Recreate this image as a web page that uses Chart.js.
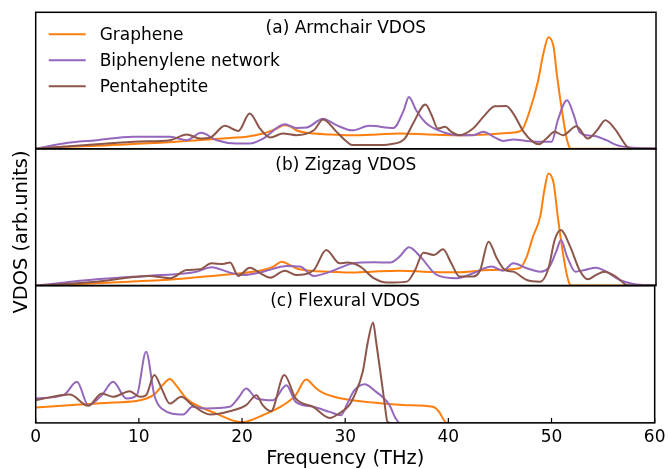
<!DOCTYPE html>
<html>
<head>
<meta charset="utf-8">
<script src="https://cdn.jsdelivr.net/npm/chart.js@4.4.1/dist/chart.umd.min.js"></script>
<style>
  html, body { margin: 0; padding: 0; background: #fff; }
  #wrap { position: relative; width: 670px; height: 469px; overflow: hidden; }
  #wrap canvas { position: absolute; left: 0; top: 0; }
</style>
</head>
<body>
<div id="wrap">
  <canvas id="armchair" width="670" height="469"></canvas>
  <canvas id="zigzag" width="670" height="469"></canvas>
  <canvas id="flexural" width="670" height="469"></canvas>
</div>
<script>
// Vibrational density of states, frequency in THz, intensity in arbitrary units (0-100 per panel)
const seriesNames = ['Graphene', 'Biphenylene network', 'Pentaheptite'];
const seriesColors = ['#ff7f0e', '#9467bd', '#8c564b'];
const panelTitles = ['(a) Armchair VDOS', '(b) Zigzag VDOS', '(c) Flexural VDOS'];
const xTicks = [0, 10, 20, 30, 40, 50, 60];
const xLabel = 'Frequency (THz)';
const yLabel = 'VDOS (arb.units)';

// (a) Armchair
const armchairGraphene = [[0,0],[2.7,1.5],[5.9,2.2],[9.1,3.4],[12.4,4.6],[15.6,6.3],[18.8,8.0],[20.4,8.8],[22.0,11.2],[23.3,14.8],[24.0,17.3],[24.6,16.5],[25.2,13.6],[26.2,11.7],[28.5,10.5],[30.4,10.0],[33.0,10.5],[35.2,11.2],[38.0,10.5],[40.7,10.0],[44.0,10.7],[46.2,11.9],[47.0,13.6],[47.8,28.2],[48.6,50.1],[49.1,69.6],[49.6,81.8],[50.1,74.4],[50.4,55.0],[50.9,28.2],[51.4,6.3],[51.8,0],[60,0]];
const armchairBiphenylene = [[0,0],[2.7,3.9],[5.9,6.3],[9.4,8.8],[13.0,8.8],[14.6,6.3],[16.0,11.7],[17.5,6.3],[19.4,3.9],[20.7,3.9],[22.0,7.5],[24.1,18.0],[25.2,15.3],[26.2,15.6],[27.8,22.1],[29.1,17.3],[30.6,13.5],[32.3,16.8],[34.6,15.3],[35.6,28.2],[36.1,38.0],[36.8,28.2],[37.8,18.5],[39.1,13.1],[40.7,10.0],[42.3,10.0],[43.3,12.4],[44.3,8.8],[45.2,5.8],[46.2,6.8],[47.5,5.8],[48.8,5.1],[49.9,5.1],[50.5,20.9],[51.4,35.5],[52.0,25.8],[52.6,12.4],[53.3,10.0],[54.2,9.2],[55.2,6.3],[56.2,2.7],[57.5,1.0],[60,0.2]];
const armchairPentaheptite = [[0,0],[5.9,3.4],[10.1,5.4],[13.0,6.3],[14.6,10.5],[15.9,7.5],[16.9,8.3],[18.3,16.8],[19.6,13.1],[20.7,25.8],[21.7,14.8],[22.7,8.3],[23.9,11.2],[25.2,10.0],[26.9,13.6],[27.8,21.4],[29.1,12.4],[30.1,5.1],[30.6,2.7],[32.7,2.7],[34.3,3.4],[35.7,7.5],[36.5,18.5],[37.7,32.4],[38.3,24.6],[38.9,14.8],[39.6,16.1],[40.2,12.4],[41.0,10.0],[42.3,14.8],[43.3,23.4],[44.4,31.1],[45.5,31.4],[46.2,25.8],[47.2,12.4],[48.1,5.1],[48.7,3.4],[49.4,7.5],[50.2,12.4],[51.0,10.0],[52.3,16.5],[53.4,7.5],[54.3,13.6],[55.1,20.9],[56.0,14.8],[57.2,1.5],[57.6,0],[60,0]];

// (b) Zigzag
const zigzagGraphene = [[0,0],[2.7,0.7],[5.9,1.7],[9.1,2.9],[12.4,4.1],[15.6,6.1],[18.8,8.3],[22.0,11.4],[23.0,13.9],[23.8,17.5],[24.6,15.0],[25.2,12.7],[26.5,10.9],[28.5,10.2],[30.4,9.5],[32.5,10.2],[35.2,10.9],[38.0,10.0],[40.7,9.7],[43.9,11.4],[46.8,12.7],[47.5,21.2],[48.1,35.8],[48.8,50.4],[49.2,69.8],[49.6,82.0],[50.1,74.7],[50.5,50.4],[51.0,23.6],[51.5,4.1],[51.8,0],[60,0]];
const zigzagBiphenylene = [[0,0],[5.9,4.6],[10.7,7.1],[14.6,9.0],[15.6,10.2],[17.0,13.5],[18.8,9.5],[20.1,7.8],[22.0,10.2],[24.3,14.4],[25.6,13.9],[26.9,7.1],[28.5,10.2],[29.6,13.5],[30.7,16.3],[32.7,17.0],[34.3,16.8],[35.2,21.2],[36.1,28.0],[37.2,21.2],[38.8,7.8],[40.7,5.4],[42.3,9.0],[44.1,13.9],[45.2,10.9],[46.2,16.3],[47.5,12.7],[48.8,10.2],[49.7,13.9],[50.4,26.0],[50.8,33.3],[51.4,21.2],[52.2,10.2],[53.1,11.4],[54.2,13.1],[55.2,10.2],[56.5,4.1],[57.8,1.2],[60,0.2]];
const zigzagPentaheptite = [[0,0],[5.9,2.9],[11.0,7.1],[13.0,5.4],[14.6,11.4],[15.9,11.9],[17.0,16.3],[18.1,15.8],[18.8,16.8],[19.6,7.1],[20.7,13.1],[22.0,7.8],[22.7,5.8],[24.1,10.9],[25.2,7.8],[26.9,11.4],[28.1,26.0],[29.4,16.3],[30.1,16.8],[31.4,13.9],[32.7,5.4],[34.0,2.2],[35.9,2.9],[36.7,11.4],[37.5,24.1],[38.5,22.4],[39.4,26.5],[40.2,16.3],[41.0,6.6],[42.3,6.6],[43.0,11.4],[43.8,32.1],[44.6,20.0],[45.4,11.4],[46.2,10.2],[47.5,4.1],[48.8,2.9],[49.6,12.7],[50.2,33.3],[50.8,40.6],[51.7,28.5],[52.6,11.4],[53.4,4.6],[54.2,7.8],[55.0,10.2],[56.2,6.1],[57.2,0.2],[57.5,0],[60,0]];

// (c) Flexural
const flexuralGraphene = [[0,11.2],[4.3,13.4],[7.5,14.8],[10.1,16.5],[11.4,20.2],[12.3,27.5],[13.0,31.9],[13.6,27.5],[14.6,17.8],[15.6,12.9],[17.5,6.8],[19.8,0.7],[20.1,0.7],[22.0,5.6],[24.0,12.9],[25.2,20.2],[26.2,31.6],[27.2,25.1],[27.8,22.1],[29.4,18.2],[32.7,14.8],[35.9,12.9],[38.5,11.7],[39.1,8.0],[39.7,0.7],[40.0,0],[60,0]];
const flexuralBiphenylene = [[0,17.8],[2.7,20.2],[4.0,29.9],[5.1,12.9],[6.4,20.2],[7.5,29.9],[8.8,17.8],[9.8,20.2],[10.7,51.8],[11.5,20.2],[12.2,10.5],[14.3,6.1],[15.2,11.7],[16.5,10.5],[18.8,11.7],[19.6,17.8],[20.4,25.1],[21.4,17.8],[23.0,16.5],[24.3,27.5],[25.2,15.3],[26.9,11.7],[28.5,8.0],[29.6,5.6],[30.2,14.0],[30.9,23.8],[31.9,28.2],[33.0,22.6],[33.6,19.0],[34.3,12.9],[34.9,3.2],[35.3,0],[60,0]];
const flexuralPentaheptite = [[0,16.5],[3.3,20.7],[5.1,12.4],[6.4,21.4],[7.5,19.0],[9.1,23.1],[10.1,19.0],[10.7,20.2],[11.5,34.8],[12.2,25.1],[13.0,14.1],[14.1,19.0],[15.2,12.9],[16.9,6.1],[18.8,8.5],[20.4,12.9],[21.4,20.2],[22.0,12.9],[22.8,8.5],[24.1,34.8],[25.2,17.8],[26.9,11.7],[28.5,3.6],[29.4,6.8],[30.4,12.9],[30.9,20.0],[31.7,37.2],[32.2,59.1],[32.7,73.2],[33.0,59.1],[33.5,32.1],[33.8,15.3],[34.1,0.7],[34.4,0],[60,0]];

const FONT = 'DejaVu Sans';

// Frame, inward ticks, panel title, legend and shared y label
const decor = {
  id: 'decor',
  afterDatasetsDraw(chart, args, opts) {
    const ctx = chart.ctx;
    const a = chart.chartArea;
    ctx.save();
    ctx.strokeStyle = '#000';
    ctx.lineWidth = 1.5;
    ctx.strokeRect(a.left, a.top, a.right - a.left, a.bottom - a.top);

    if (opts.ticks) {
      const sx = chart.scales.x;
      ctx.lineWidth = 1.2;
      sx.ticks.forEach(t => {
        const px = sx.getPixelForValue(t.value);
        ctx.beginPath();
        ctx.moveTo(px, a.bottom);
        ctx.lineTo(px, a.bottom - 5);
        ctx.stroke();
      });
    }

    ctx.fillStyle = '#000';
    ctx.font = '17px "' + FONT + '"';
    ctx.textAlign = 'center';
    ctx.textBaseline = 'alphabetic';
    ctx.fillText(opts.title, (a.left + a.right) / 2, a.top + 20.7);

    if (opts.legend) {
      ctx.textAlign = 'left';
      chart.data.datasets.forEach((ds, i) => {
        const y = a.top + 22 + i * 26;
        ctx.strokeStyle = ds.borderColor;
        ctx.lineWidth = 2;
        ctx.beginPath();
        ctx.moveTo(a.left + 13, y);
        ctx.lineTo(a.left + 50, y);
        ctx.stroke();
        ctx.fillStyle = '#000';
        ctx.fillText(ds.label, a.left + 64, y + 5.7);
      });
    }

    if (opts.yLabel) {
      ctx.translate(27, 232);
      ctx.rotate(-Math.PI / 2);
      ctx.textAlign = 'center';
      ctx.fillStyle = '#000';
      ctx.font = '19.4px "' + FONT + '"';
      ctx.fillText(opts.yLabel, 0, 0);
    }
    ctx.restore();
  }
};

function datasetsFor(series) {
  return series.map((pts, i) => ({
    label: seriesNames[i],
    data: pts.map(([x, y]) => ({ x, y })),
    borderColor: seriesColors[i],
    backgroundColor: seriesColors[i],
    borderWidth: 2,
    pointRadius: 0,
    fill: false,
    cubicInterpolationMode: 'monotone',
    borderJoinStyle: 'round',
    order: 2 - i
  }));
}

function makePanel(id, series, title, padding, extra) {
  const bottomAxis = !!extra.axis;
  return new Chart(document.getElementById(id), {
    type: 'line',
    data: { datasets: datasetsFor(series) },
    options: {
      responsive: false,
      animation: false,
      devicePixelRatio: 1,
      layout: { padding },
      scales: {
        x: {
          type: 'linear',
          min: xTicks[0],
          max: xTicks[xTicks.length - 1],
          display: bottomAxis,
          grid: { display: false, drawTicks: false },
          border: { display: false },
          afterBuildTicks: s => { s.ticks = xTicks.map(v => ({ value: v })); },
          ticks: {
            color: '#000',
            font: { family: FONT, size: 17, lineHeight: 1.2 },
            padding: 4.5,
            maxRotation: 0,
            autoSkip: false
          },
          title: {
            display: bottomAxis,
            text: xLabel,
            color: '#000',
            font: { family: FONT, size: 19.4, lineHeight: 1 },
            padding: { top: -2.7, bottom: 0 }
          }
        },
        y: { type: 'linear', min: 0, max: 100, display: false }
      },
      plugins: {
        legend: { display: false },
        tooltip: { enabled: false },
        decor: {
          title,
          legend: !!extra.legend,
          ticks: bottomAxis,
          yLabel: extra.yLabel || null
        }
      }
    },
    plugins: [decor]
  });
}

makePanel('armchair', [armchairGraphene, armchairBiphenylene, armchairPentaheptite], panelTitles[0],
  { top: 12.3, bottom: 320.2, left: 35.7, right: 14 }, { legend: true });
makePanel('zigzag', [zigzagGraphene, zigzagBiphenylene, zigzagPentaheptite], panelTitles[1],
  { top: 148.8, bottom: 183.4, left: 35.7, right: 14 }, { yLabel });
makePanel('flexural', [flexuralGraphene, flexuralBiphenylene, flexuralPentaheptite], panelTitles[2],
  { top: 285.6, bottom: 0, left: 35.7, right: 14 }, { axis: true });
</script>
</body>
</html>
